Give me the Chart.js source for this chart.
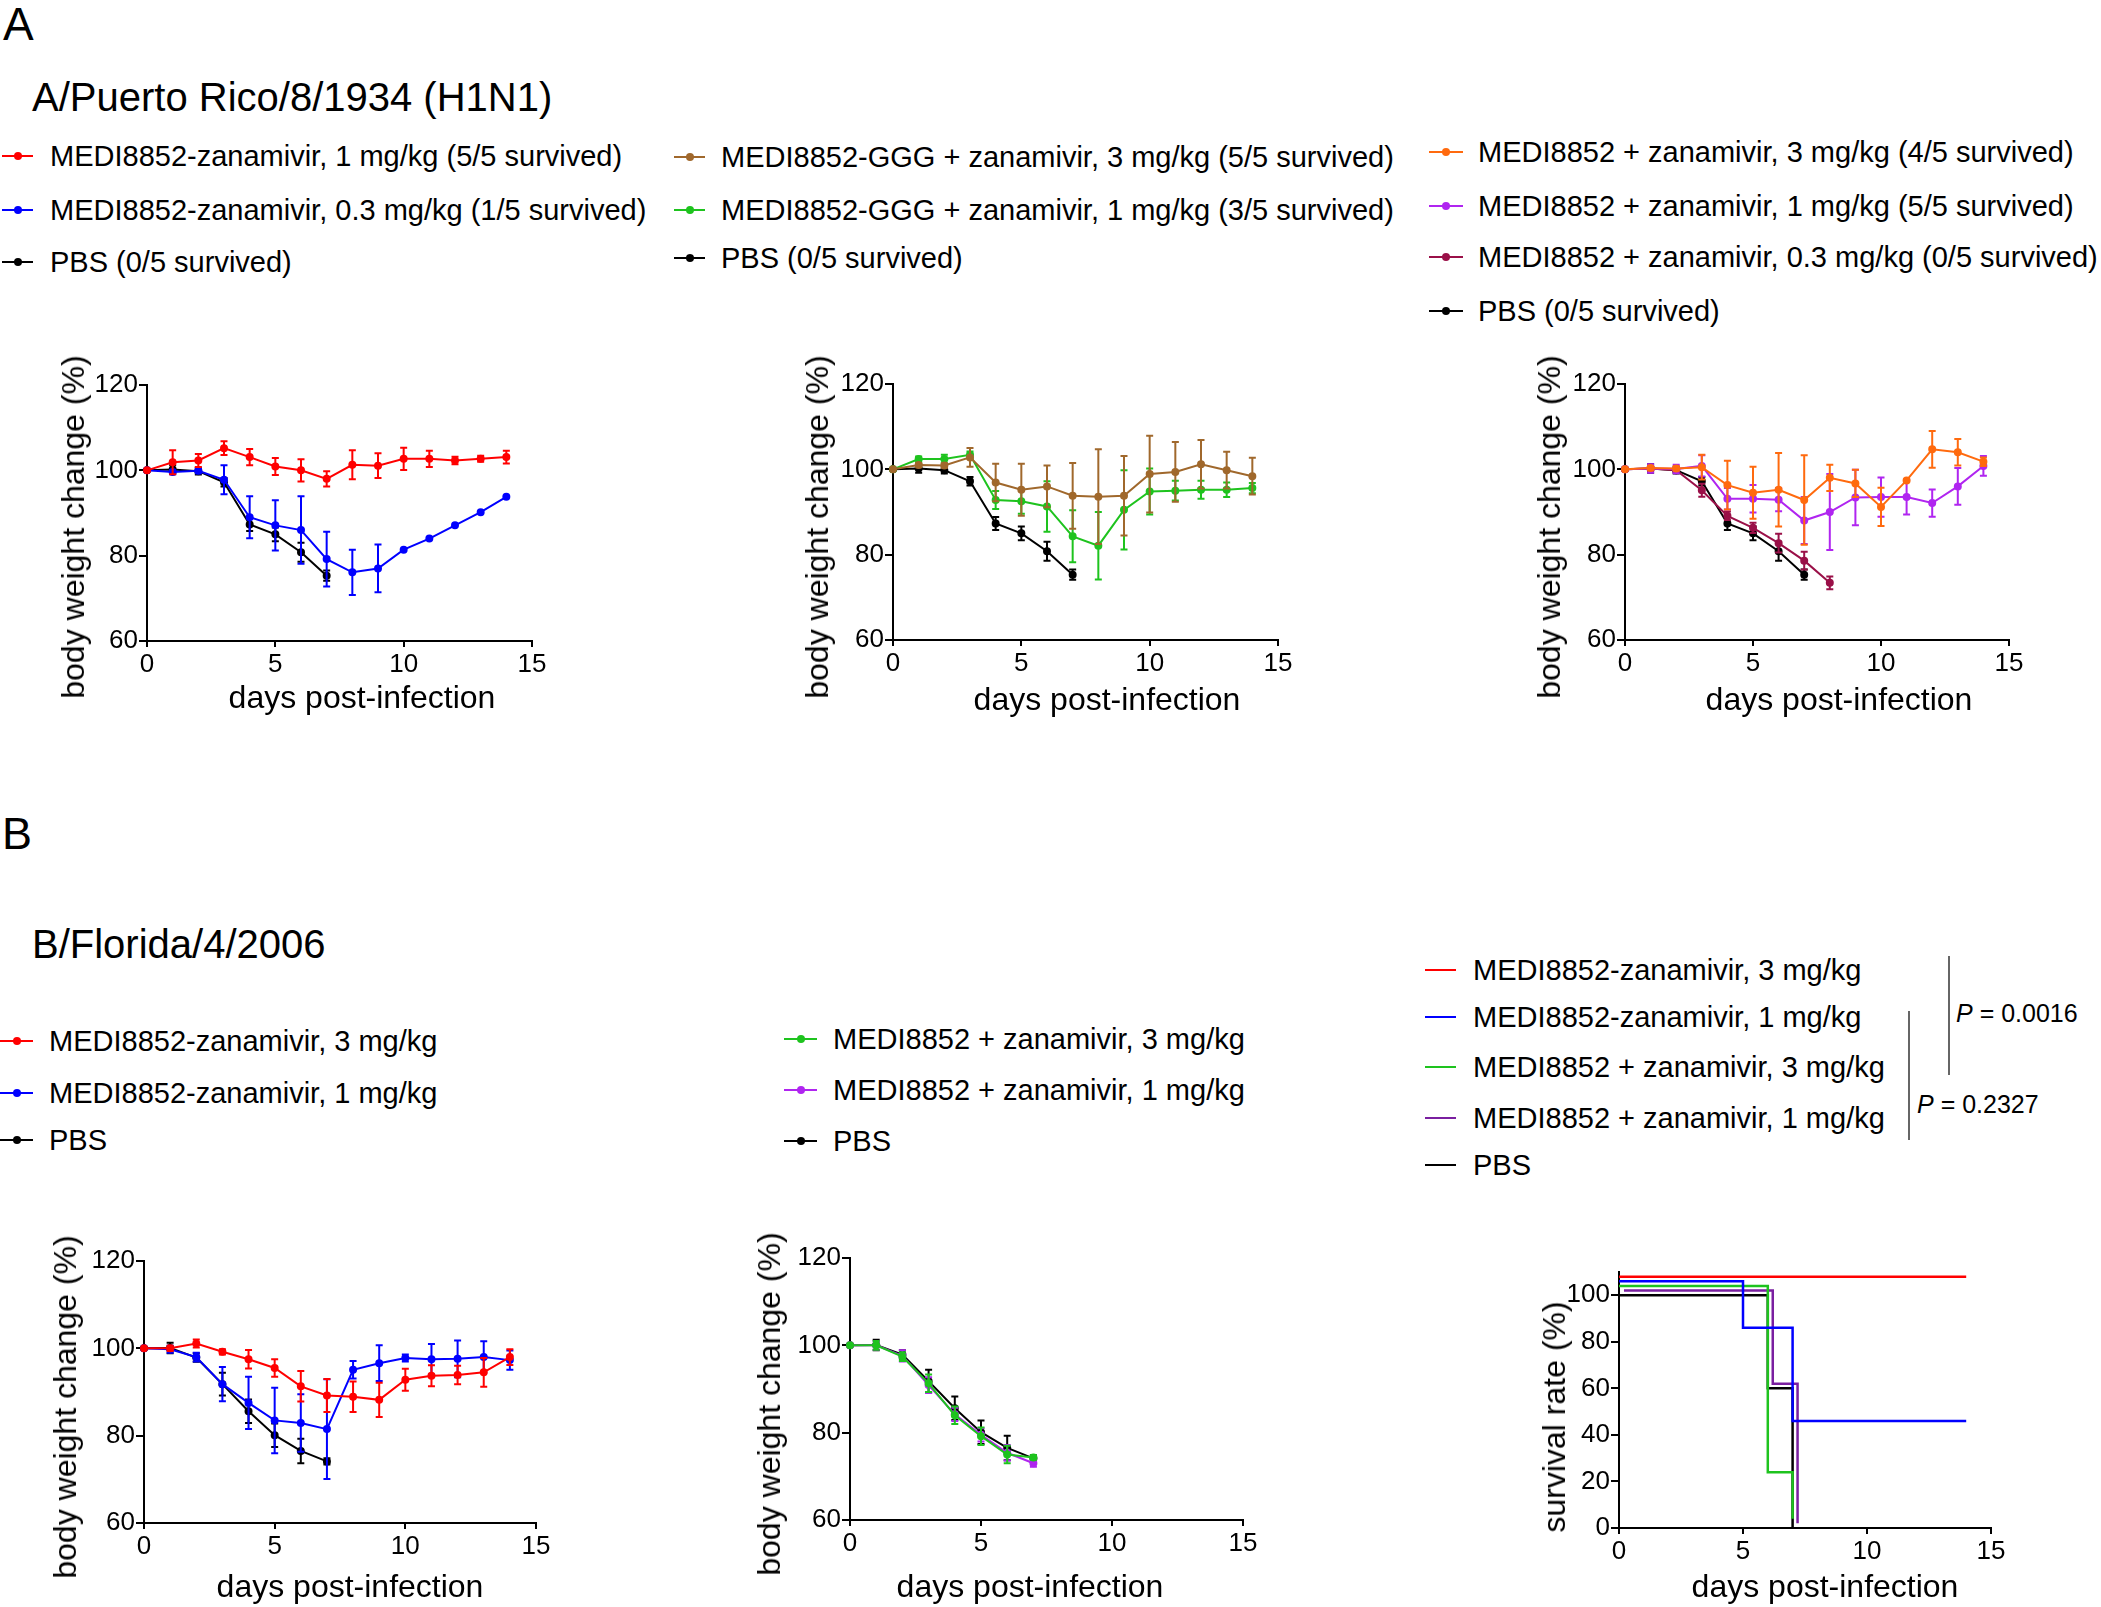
<!DOCTYPE html>
<html>
<head>
<meta charset="utf-8">
<script src="https://cdn.jsdelivr.net/npm/chart.js@4.4.0/dist/chart.umd.min.js"></script>
<style>
  body { margin: 0; background: #fff; width: 2101px; height: 1607px; position: relative; overflow: hidden;
         font-family: 'Liberation Sans', Arial, sans-serif; color: #000; }
  .t { position: absolute; white-space: nowrap; line-height: 1; transform: translateY(-50%); }
  .ax { position: absolute; white-space: nowrap; line-height: 1; font-size: 32px; transform: translate(-50%, -50%); }
  .ay { position: absolute; white-space: nowrap; line-height: 1; font-size: 32px; transform: translate(-50%, -50%) rotate(-90deg); }
  .mk { position: absolute; height: 2px; transform: translateY(-50%); }
  .dot { position: absolute; width: 8px; height: 8px; border-radius: 50%; transform: translate(-50%, -50%); }
  .vl { position: absolute; width: 2px; background: #666; }
  canvas { position: absolute; }
</style>
</head>
<body>
<canvas id="a1"></canvas>
<canvas id="a2"></canvas>
<canvas id="a3"></canvas>
<canvas id="b1"></canvas>
<canvas id="b2"></canvas>
<canvas id="b3"></canvas>
<script>
// days post-infection
const days = [0, 1, 2, 3, 4, 5, 6, 7, 8, 9, 10, 11, 12, 13, 14];

// A/Puerto Rico/8/1934 (H1N1) - body weight (%) and SEM
const prZan1 = [100, 101.9, 102.3, 105.2, 103.1, 100.9, 100.0, 98.0, 101.3, 101.1, 102.7, 102.7, 102.3, 102.7, 103.1];
const prZan1Sem = [0, 2.8, 1.5, 1.6, 1.9, 2.0, 2.6, 1.8, 3.4, 2.9, 2.6, 1.9, 0.9, 0.7, 1.5];
const prZan03 = [100, 99.6, 99.9, 97.8, 89.0, 87.1, 86.0, 79.2, 76.1, 77.0, 81.4, 84.0, 87.1, 90.2, 93.8];
const prZan03Sem = [0, 0.5, 0.6, 3.4, 4.9, 5.9, 7.9, 6.4, 5.3, 5.6, 0, 0, 0, 0, 0];
const prPbs = [100, 100.2, 99.8, 97.2, 87.3, 85.0, 80.8, 75.3];
const prPbsSem = [0, 1.0, 0.8, 1.0, 1.5, 1.6, 2.2, 1.2];
const prGgg3 = [100, 101.0, 100.9, 102.8, 96.9, 95.2, 96.0, 93.8, 93.6, 93.8, 98.9, 99.4, 101.2, 99.8, 98.4];
const prGgg3Sem = [0, 0.5, 0.5, 2.2, 4.4, 6.1, 4.9, 7.7, 11.1, 9.3, 9.0, 7.0, 5.7, 4.3, 4.3];
const prGgg1 = [100, 102.4, 102.4, 103.4, 92.8, 92.5, 91.3, 84.3, 82.1, 90.5, 94.8, 95.0, 95.2, 95.2, 95.6];
const prGgg1Sem = [0, 0.6, 1.0, 0.8, 2.1, 2.9, 5.9, 6.1, 7.9, 9.3, 5.4, 2.3, 2.1, 1.7, 1.2];
const prMix3 = [100, 100.3, 100.2, 100.5, 96.3, 94.5, 95.2, 92.8, 98.0, 96.7, 91.2, 97.4, 104.7, 104.0, 101.8];
const prMix3Sem = [0, 0.5, 0.5, 2.9, 5.7, 6.1, 8.6, 10.5, 3.1, 3.2, 4.5, 0, 4.3, 3.1, 1.0];
const prMix1 = [100, 100.2, 100.1, 100.8, 93.1, 93.1, 92.9, 88.0, 90.0, 93.4, 93.5, 93.5, 92.1, 96.0, 100.8];
const prMix1Sem = [0, 1.0, 1.0, 2.5, 2.5, 3.2, 2.7, 5.5, 8.9, 6.5, 4.6, 4.1, 3.2, 4.3, 2.3];
const prMix03 = [100, 100.2, 99.8, 95.1, 89.1, 86.3, 82.7, 78.6, 73.4];
const prMix03Sem = [0, 0.6, 0.6, 1.5, 1.0, 1.2, 2.2, 2.1, 1.5];

// B/Florida/4/2006 - body weight (%) and SEM
const flZan3 = [100, 100.0, 101.1, 99.2, 97.5, 95.5, 91.3, 89.2, 88.9, 88.2, 92.8, 93.7, 93.9, 94.5, 98.0];
const flZan3Sem = [0, 0.6, 0.9, 0.6, 2.1, 2.0, 3.5, 3.8, 3.5, 3.9, 2.5, 2.4, 2.1, 3.3, 1.8];
const flZan1 = [100, 99.8, 98.0, 91.8, 87.5, 83.5, 82.9, 81.5, 95.1, 96.6, 97.8, 97.5, 97.6, 98.0, 97.3];
const flZan1Sem = [0, 0.8, 1.0, 3.9, 6.0, 7.5, 6.6, 11.4, 2.0, 4.1, 0.8, 3.5, 4.2, 3.6, 2.2];
const flPbs = [100, 100.1, 97.9, 91.8, 85.6, 80.1, 76.5, 74.1];
const flPbsSem = [0, 1.2, 1.0, 2.6, 2.7, 2.7, 2.8, 0.7];
const flMix3 = [100, 100, 97.4, 91.3, 84.0, 79.2, 75.0, 74.3];
const flMix3Sem = [0, 1.0, 1.0, 2.0, 2.0, 2.0, 2.0, 0.5];
const flMix1 = [100, 100, 97.6, 90.9, 84.2, 79.5, 75.4, 73.0];
const flMix1Sem = [0, 1.0, 1.3, 1.8, 1.5, 1.5, 1.8, 0.8];

// B/Florida/4/2006 - survival (%) as plotted (curves are nudged apart in the figure)
const survZan3Days = [0, 14];
const survZan3 = [108, 108];
const survZan1Days = [0, 5, 7, 14];
const survZan1 = [106, 86, 46, 46];
const survMix3Days = [0, 6, 7];
const survMix3 = [104, 24, 4];
const survMix1Days = [0.2, 6.2, 7.2];
const survMix1 = [102, 62, 2];
const survPbsDays = [0, 6, 7];
const survPbs = [100, 60, 0];

Chart.defaults.font.family = "'Liberation Sans', Arial, sans-serif";
Chart.defaults.color = '#000';

// error bars drawn right after each line so the stacking order stays
const errorBars = {
  id: 'errorBars',
  afterDatasetDraw(chart, args) {
    const ds = chart.data.datasets[args.index];
    if (!ds.errors) return;
    const ctx = chart.ctx, y = chart.scales.y;
    ctx.save();
    ctx.strokeStyle = ds.borderColor;
    ctx.lineWidth = 2;
    args.meta.data.forEach((pt, j) => {
      const e = ds.errors[j];
      if (!e) return;
      const v = ds.data[j].y;
      const top = y.getPixelForValue(v + e), bot = y.getPixelForValue(v - e);
      ctx.beginPath();
      ctx.moveTo(pt.x, top); ctx.lineTo(pt.x, bot);
      ctx.moveTo(pt.x - 3.5, top); ctx.lineTo(pt.x + 3.5, top);
      ctx.moveTo(pt.x - 3.5, bot); ctx.lineTo(pt.x + 3.5, bot);
      ctx.stroke();
    });
    ctx.restore();
  }
};

function series(color, vals, sem, xs) {
  xs = xs || days;
  return {
    data: vals.map((v, i) => ({ x: xs[i], y: v })),
    errors: sem,
    borderColor: color,
    backgroundColor: color,
    pointBackgroundColor: color,
    pointBorderColor: color,
    borderWidth: 2,
    pointRadius: sem ? 3 : 0,
    clip: false
  };
}

function survival(color, xs, vals) {
  const s = series(color, vals, null, xs);
  s.stepped = 'before';
  s.borderWidth = 2.5;
  return s;
}

function addText(str, x, y, size, cls) {
  const d = document.createElement('div');
  d.className = cls || 't';
  d.style.left = x + 'px';
  d.style.top = y + 'px';
  if (size) d.style.fontSize = size + 'px';
  d.innerHTML = str;
  document.body.appendChild(d);
}

// box = plot area in page px; yt / xt = centres of the y and x axis titles
function makeChart(id, box, yt, xt, datasets, yTitle, yMax) {
  const cv = document.getElementById(id);
  const left = box.l - 100;
  const top = box.t - 20;
  const xH = 50;
  cv.style.left = left + 'px';
  cv.style.top = top + 'px';
  cv.width = box.r + 30 - left;
  cv.height = box.b + xH - top;

  const survivalChart = yMax === 110;
  new Chart(cv, {
    type: 'line',
    data: { datasets: datasets },
    plugins: [errorBars],
    options: {
      responsive: false,
      animation: false,
      devicePixelRatio: 1,
      layout: { padding: { top: 20, right: 30, left: 0, bottom: 0 } },
      plugins: { legend: { display: false }, tooltip: { enabled: false } },
      elements: { line: { tension: 0 } },
      scales: {
        x: {
          type: 'linear', min: 0, max: 15,
          ticks: { stepSize: 5, padding: 2, maxRotation: 0, font: { size: 26 }, color: '#000' },
          grid: { drawOnChartArea: false, tickLength: 6, color: '#000', lineWidth: 2 },
          border: { color: '#000', width: 2 },
          afterFit: s => { s.height = xH; }
        },
        y: {
          min: survivalChart ? 0 : 60, max: yMax,
          ticks: { stepSize: 20, includeBounds: false, padding: 1, font: { size: 26 }, color: '#000' },
          grid: { drawOnChartArea: false, tickLength: 8, color: '#000', lineWidth: 2 },
          border: { color: '#000', width: 2 },
          afterFit: s => { s.width = 100; }
        }
      }
    }
  });

  addText(yTitle, yt[0], yt[1], 0, 'ay');
  addText('days post-infection', xt[0], xt[1], 0, 'ax');
}

const bw = 'body weight change (%)';
const RED = '#ff0000', BLUE = '#0000ff', BLACK = '#000000', BROWN = '#a0682c', GREEN = '#1ec31e',
      ORANGE = '#ff6a0e', VIOLET = '#b025f0', MAROON = '#9a1048', PURPLE = '#7a1fa0';

makeChart('a1', { l: 147, t: 385, r: 532, b: 641 }, [73, 527], [362, 697], [
  series(RED, prZan1, prZan1Sem),
  series(BLUE, prZan03, prZan03Sem),
  series(BLACK, prPbs, prPbsSem)
], bw, 120);

makeChart('a2', { l: 893, t: 384, r: 1278, b: 640 }, [817, 527], [1107, 699], [
  series(BROWN, prGgg3, prGgg3Sem),
  series(GREEN, prGgg1, prGgg1Sem),
  series(BLACK, prPbs, prPbsSem)
], bw, 120);

makeChart('a3', { l: 1625, t: 384, r: 2009, b: 640 }, [1549, 527], [1839, 699], [
  series(ORANGE, prMix3, prMix3Sem),
  series(VIOLET, prMix1, prMix1Sem),
  series(MAROON, prMix03, prMix03Sem),
  series(BLACK, prPbs, prPbsSem)
], bw, 120);

makeChart('b1', { l: 144, t: 1261, r: 536, b: 1523 }, [65, 1407], [350, 1586], [
  series(RED, flZan3, flZan3Sem),
  series(BLUE, flZan1, flZan1Sem),
  series(BLACK, flPbs, flPbsSem)
], bw, 120);

makeChart('b2', { l: 850, t: 1258, r: 1243, b: 1520 }, [769, 1404], [1030, 1586], [
  series(GREEN, flMix3, flMix3Sem),
  series(VIOLET, flMix1, flMix1Sem),
  series(BLACK, flPbs, flPbsSem)
], bw, 120);

makeChart('b3', { l: 1619, t: 1272, r: 1991, b: 1528 }, [1554, 1417], [1825, 1586], [
  survival(RED, survZan3Days, survZan3),
  survival(BLUE, survZan1Days, survZan1),
  survival(GREEN, survMix3Days, survMix3),
  survival(PURPLE, survMix1Days, survMix1),
  survival(BLACK, survPbsDays, survPbs)
], 'survival rate (%)', 110);

// ---- panel text, legends, p-values ----
function addLegend(x, y, w, color, label, textX, dot) {
  const m = document.createElement('div');
  m.className = 'mk';
  m.style.left = x + 'px'; m.style.top = y + 'px'; m.style.width = w + 'px';
  m.style.background = color;
  document.body.appendChild(m);
  if (dot) {
    const d = document.createElement('div');
    d.className = 'dot';
    d.style.left = (x + w / 2) + 'px'; d.style.top = y + 'px';
    d.style.background = color;
    document.body.appendChild(d);
  }
  addText(label, textX, y, 29);
}

addText('A', 3, 24, 46);
addText('A/Puerto Rico/8/1934 (H1N1)', 32, 97, 40);
addText('B', 2, 833, 45);
addText('B/Florida/4/2006', 32, 944, 40);

[[RED, 'MEDI8852-zanamivir, 1 mg/kg (5/5 survived)', 156],
 [BLUE, 'MEDI8852-zanamivir, 0.3 mg/kg (1/5 survived)', 210],
 [BLACK, 'PBS (0/5 survived)', 262]].forEach(r => addLegend(2, r[2], 31, r[0], r[1], 50, true));

[[BROWN, 'MEDI8852-GGG + zanamivir, 3 mg/kg (5/5 survived)', 157],
 [GREEN, 'MEDI8852-GGG + zanamivir, 1 mg/kg (3/5 survived)', 210],
 [BLACK, 'PBS (0/5 survived)', 258]].forEach(r => addLegend(674, r[2], 31, r[0], r[1], 721, true));

[[ORANGE, 'MEDI8852 + zanamivir, 3 mg/kg (4/5 survived)', 152],
 [VIOLET, 'MEDI8852 + zanamivir, 1 mg/kg (5/5 survived)', 206],
 [MAROON, 'MEDI8852 + zanamivir, 0.3 mg/kg (0/5 survived)', 257],
 [BLACK, 'PBS (0/5 survived)', 311]].forEach(r => addLegend(1429, r[2], 34, r[0], r[1], 1478, true));

[[RED, 'MEDI8852-zanamivir, 3 mg/kg', 1041],
 [BLUE, 'MEDI8852-zanamivir, 1 mg/kg', 1093],
 [BLACK, 'PBS', 1140]].forEach(r => addLegend(0, r[2], 33, r[0], r[1], 49, true));

[[GREEN, 'MEDI8852 + zanamivir, 3 mg/kg', 1039],
 [VIOLET, 'MEDI8852 + zanamivir, 1 mg/kg', 1090],
 [BLACK, 'PBS', 1141]].forEach(r => addLegend(784, r[2], 33, r[0], r[1], 833, true));

[[RED, 'MEDI8852-zanamivir, 3 mg/kg', 970],
 [BLUE, 'MEDI8852-zanamivir, 1 mg/kg', 1017],
 [GREEN, 'MEDI8852 + zanamivir, 3 mg/kg', 1067],
 [PURPLE, 'MEDI8852 + zanamivir, 1 mg/kg', 1118],
 [BLACK, 'PBS', 1165]].forEach(r => addLegend(1425, r[2], 31, r[0], r[1], 1473, false));

function vline(x, y1, y2) {
  const d = document.createElement('div');
  d.className = 'vl';
  d.style.left = x + 'px'; d.style.top = y1 + 'px'; d.style.height = (y2 - y1) + 'px';
  document.body.appendChild(d);
}
vline(1948, 956, 1075);
vline(1908, 1011, 1140);
addText('<i>P</i> = 0.0016', 1956, 1013, 25);
addText('<i>P</i> = 0.2327', 1917, 1104, 25);
</script>
</body>
</html>
